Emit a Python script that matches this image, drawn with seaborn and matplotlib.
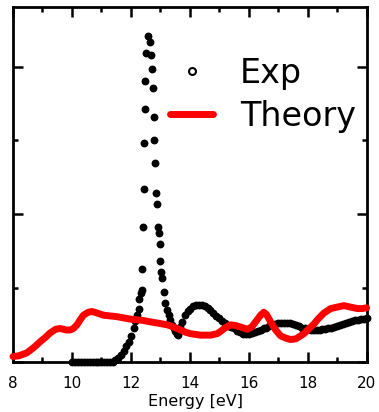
import numpy as np
import pandas as pd
import matplotlib
matplotlib.use('Agg')
import matplotlib.pyplot as plt
from matplotlib.lines import Line2D
from matplotlib.ticker import MultipleLocator
import seaborn as sns

exp_energy = [10.0, 10.1, 10.2, 10.3, 10.4, 10.5, 10.6, 10.7, 10.8, 10.9, 11.0, 11.1, 11.2, 11.3, 11.4,
              11.47, 11.55, 11.65, 11.75, 11.85, 11.92, 12.0, 12.09, 12.15, 12.2, 12.26, 12.29, 12.33,
              12.36, 12.38, 12.40, 12.43, 12.46, 12.48, 12.49, 12.52, 12.58, 12.64, 12.68, 12.72, 12.74,
              12.77, 12.80, 12.83, 12.85, 12.89, 12.91, 12.94, 12.98, 13.0, 13.02, 13.06, 13.11, 13.17,
              13.22, 13.28, 13.34, 13.40, 13.46, 13.51, 13.55, 13.59, 13.64, 13.68, 13.75, 13.85, 13.95,
              14.02, 14.1, 14.2, 14.3, 14.4, 14.5, 14.6, 14.7, 14.8, 14.9, 15.0, 15.1, 15.2, 15.3, 15.4,
              15.5, 15.6, 15.7, 15.8, 15.9, 16.0, 16.1, 16.2, 16.3, 16.4, 16.5, 16.6, 16.7, 16.8, 16.9,
              17.0, 17.1, 17.2, 17.3, 17.4, 17.5, 17.6, 17.7, 17.8, 17.9, 18.0, 18.1, 18.2, 18.3, 18.4,
              18.5, 18.6, 18.7, 18.8, 18.9, 19.0, 19.1, 19.2, 19.3, 19.4, 19.5, 19.6, 19.7, 19.8, 19.9, 20.0]
exp_signal = [0, 0, 0, 0, 0, 0, 0, 0, 0, 0, 0, 0, 0, 0, 0,
              0.02, 0.05, 0.09, 0.14, 0.21, 0.27, 0.35, 0.45, 0.55, 0.63, 0.72, 0.85, 0.93,
              0.97, 1.25, 1.83, 2.34, 2.97, 3.42, 3.80, 4.18, 4.41, 4.33, 4.16, 3.96, 3.71,
              3.32, 3.01, 2.69, 2.28, 2.14, 1.83, 1.74, 1.59, 1.36, 1.22, 1.13, 0.95, 0.79,
              0.70, 0.63, 0.56, 0.50, 0.45, 0.41, 0.38, 0.36, 0.41, 0.47, 0.54, 0.63, 0.69,
              0.72, 0.75, 0.77, 0.77, 0.77, 0.75, 0.73, 0.70, 0.66, 0.62, 0.59, 0.55, 0.52, 0.49, 0.47,
              0.45, 0.42, 0.40, 0.38, 0.38, 0.38, 0.39, 0.40, 0.42, 0.43, 0.45, 0.46, 0.48, 0.50, 0.51,
              0.52, 0.52, 0.52, 0.52, 0.52, 0.51, 0.50, 0.48, 0.46, 0.45, 0.44, 0.43, 0.43, 0.43, 0.43,
              0.44, 0.44, 0.45, 0.46, 0.47, 0.48, 0.50, 0.51, 0.52, 0.54, 0.55, 0.56, 0.57, 0.58, 0.58, 0.59]

# Theory curve (red line)
theory_energy = [8.0, 8.2, 8.47, 8.7, 8.92, 9.1, 9.26, 9.45, 9.6, 9.8, 9.94, 10.05, 10.17, 10.3, 10.39,
                 10.55, 10.68, 10.85, 11.07, 11.3, 11.53, 11.8, 12.09, 12.4, 12.66, 12.95, 13.23, 13.45,
                 13.68, 13.85, 14.02, 14.36, 14.7, 14.93, 15.04, 15.2, 15.38, 15.55, 15.72, 15.95, 16.1,
                 16.23, 16.4, 16.51, 16.6, 16.74, 16.91, 17.08, 17.25, 17.42, 17.6, 17.87, 18.05, 18.21,
                 18.33, 18.55, 18.78, 19.0, 19.23, 19.45, 19.69, 19.85, 20.0]
theory_signal = [0.07, 0.08, 0.12, 0.19, 0.27, 0.33, 0.39, 0.44, 0.45, 0.43, 0.43, 0.45, 0.50, 0.58, 0.63,
                 0.67, 0.68, 0.66, 0.63, 0.62, 0.61, 0.59, 0.57, 0.56, 0.54, 0.52, 0.50, 0.47,
                 0.43, 0.40, 0.38, 0.36, 0.36, 0.38, 0.41, 0.46, 0.50, 0.49, 0.47, 0.44, 0.47,
                 0.54, 0.63, 0.67, 0.64, 0.54, 0.43, 0.35, 0.32, 0.30, 0.31, 0.38, 0.45, 0.51,
                 0.57, 0.66, 0.72, 0.74, 0.76, 0.74, 0.72, 0.72, 0.73]

labels = ['Exp', 'Theory']

if __name__ == '__main__':
    sns.set_style('ticks')
    plt.rcParams['font.family'] = ['DejaVu Sans']
    plt.rcParams['text.color'] = 'black'
    plt.rcParams['axes.labelcolor'] = 'black'
    plt.rcParams['axes.edgecolor'] = 'black'
    plt.rcParams['xtick.color'] = 'black'
    plt.rcParams['ytick.color'] = 'black'

    df_exp = pd.DataFrame({'energy': exp_energy, 'signal': exp_signal})
    df_th = pd.DataFrame({'energy': theory_energy, 'signal': theory_signal})

    fig = plt.figure(figsize=(3.79, 4.12), dpi=100)
    ax = fig.add_axes([0.0343, 0.1221, 0.9332, 0.8597])

    sns.scatterplot(data=df_exp, x='energy', y='signal', ax=ax, color='black', s=32,
                    linewidth=0, clip_on=False, zorder=2)
    sns.lineplot(data=df_th, x='energy', y='signal', ax=ax, color='red', lw=5,
                 sort=False, clip_on=False, zorder=3)

    ax.set_xlim(8, 20)
    ax.set_ylim(0, 4.8)
    ax.xaxis.set_major_locator(MultipleLocator(2))
    ax.xaxis.set_minor_locator(MultipleLocator(1))
    ax.yaxis.set_major_locator(MultipleLocator(2))
    ax.yaxis.set_minor_locator(MultipleLocator(1))
    ax.tick_params(which='both', direction='in', top=True, right=True, width=1.8)
    ax.tick_params(which='major', length=7.5)
    ax.tick_params(which='minor', length=3.5)
    ax.tick_params(axis='x', labelsize=11, pad=10)
    ax.tick_params(axis='y', labelleft=False)
    for sp in ax.spines.values():
        sp.set_linewidth(2)

    ax.set_xlabel('Energy [eV]', fontsize=11.5)
    ax.xaxis.set_label_coords(0.517, -0.092)
    ax.set_ylabel('')

    handles = [Line2D([], [], marker='o', ls='', mfc='white', mec='black', mew=1.5, ms=5),
               Line2D([], [], color='red', lw=5)]
    ax.legend(handles, labels, loc='upper left', bbox_to_anchor=(0.444, 0.86), frameon=False,
              fontsize=24, borderpad=0, handlelength=1.3, handletextpad=0.8, labelspacing=0.3,
              borderaxespad=0)

    plt.savefig('out.png', dpi=100)
